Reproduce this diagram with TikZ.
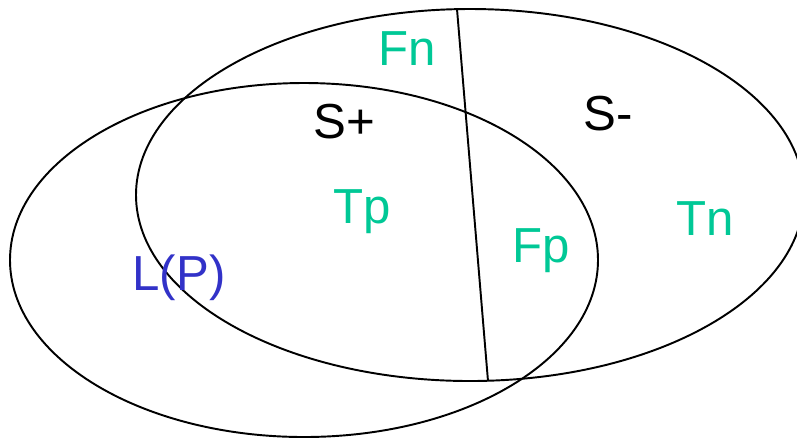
\documentclass[tikz,border=0pt]{standalone}
\usepackage{fontspec}
\setmainfont{Liberation Sans}
\definecolor{cellgreen}{RGB}{0,200,150}
\definecolor{setblue}{RGB}{50,50,200}
\tikzset{
	lbl/.style={anchor=base,inner sep=0pt,font=\fontsize{28}{32}\selectfont},
	cell/.style={lbl,text=cellgreen}
}

\begin{document}
\begin{tikzpicture}[x=0.02cm,y=-0.02cm,line width=1.1pt]
				\useasboundingbox (0,0) rectangle (797,441);
				\coordinate (S) at (470,195);
				\coordinate (L) at (304,260);
				\coordinate (T) at (457,9);
				\coordinate (B) at (488,381);
				\draw (S) ellipse [x radius=334, y radius=186];
				\draw (L) ellipse [x radius=294, y radius=177];
				\draw (T)--(B);
				\node[cell] (fn) at (407,65) {Fn};
				\node[lbl] (sp) at (344,138) {S+};
				\node[lbl] (sm) at (608,130) {S-};
				\node[cell] (tp) at (362,223) {Tp};
				\node[cell] (fp) at (541,262) {Fp};
				\node[cell] (tn) at (705,235) {Tn};
				\node[lbl,text=setblue] (lp) at (179,290) {L(P)};
			\end{tikzpicture}
\end{document}
